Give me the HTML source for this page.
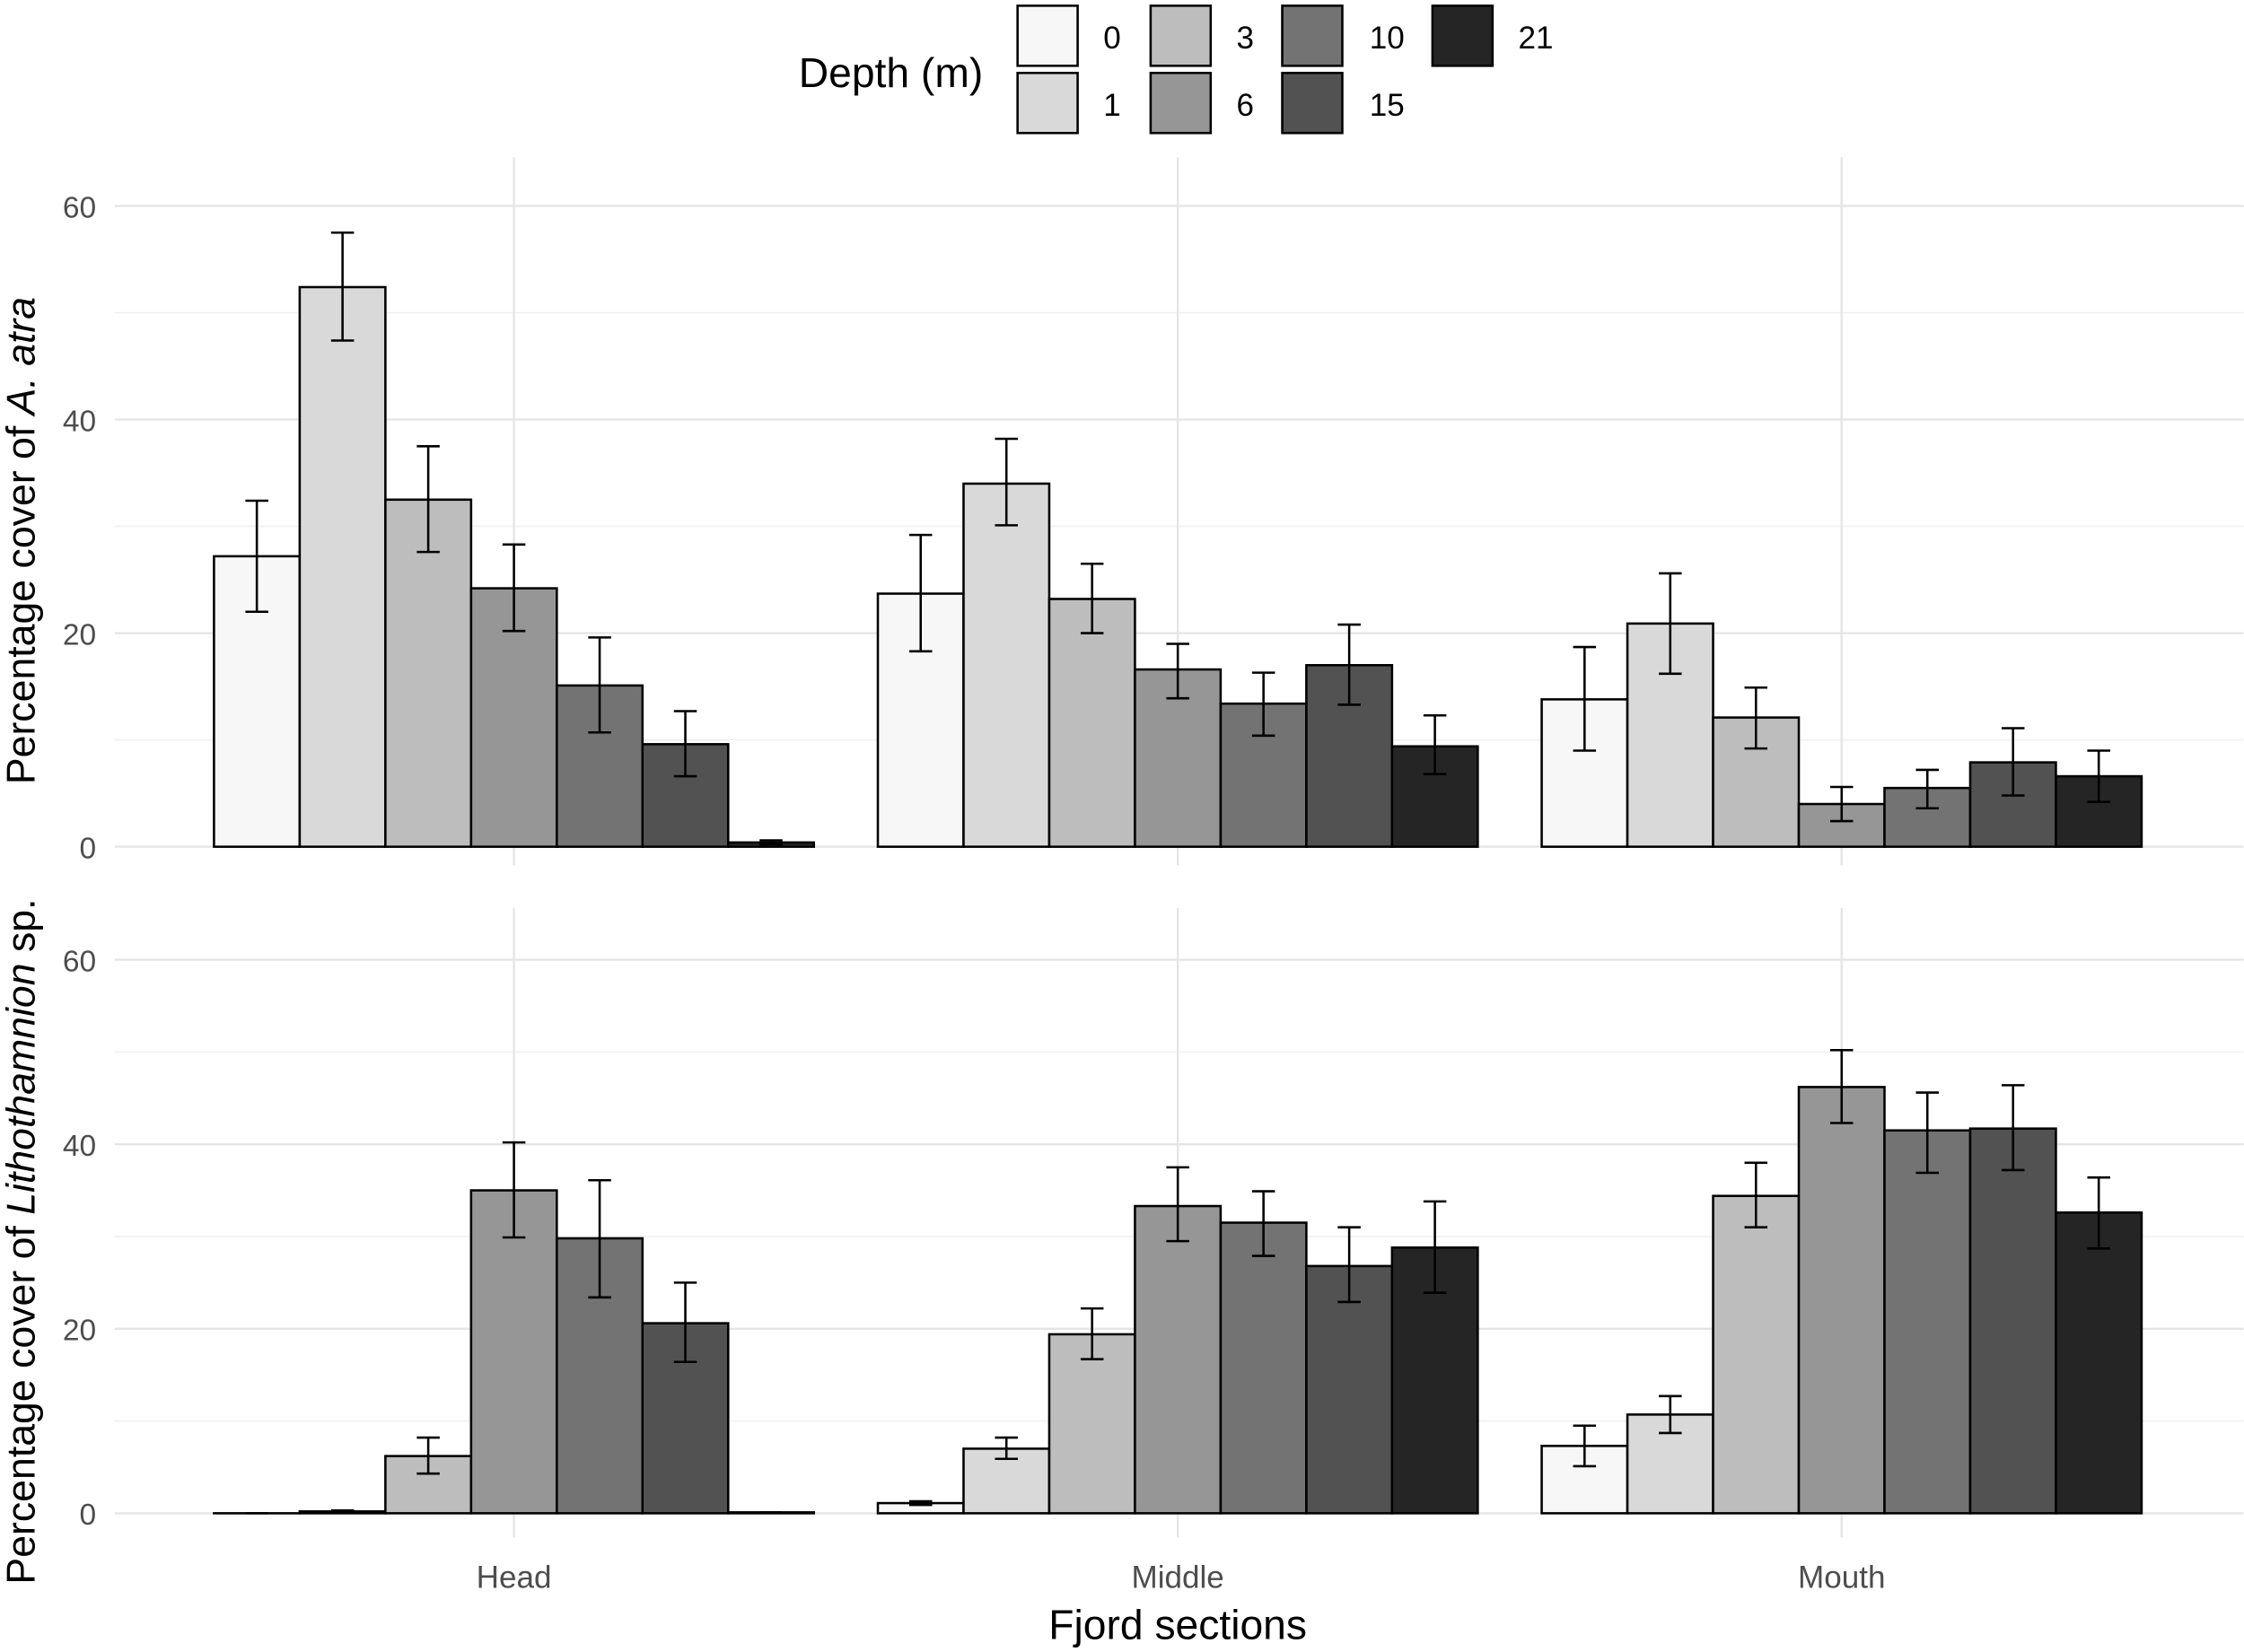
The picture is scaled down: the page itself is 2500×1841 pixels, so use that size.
<!DOCTYPE html>
<html><head><meta charset="utf-8"><style>
html,body{margin:0;padding:0;background:#fff}
svg{display:block}
text{font-family:"Liberation Sans",sans-serif}
</style></head><body>
<svg id="chart" width="2500" height="1841" viewBox="0 0 1568 1155" xmlns="http://www.w3.org/2000/svg">
<g id="panels"></g>
<g id="legend"></g>
<text x="823" y="1146" text-anchor="middle" font-size="29" fill="#000">Fjord sections</text>
</svg>
<script>
const sections = ["Head","Middle","Mouth"];
const depths = ["0","1","3","6","10","15","21"];
const fills = ["#f7f7f7","#d9d9d9","#bdbdbd","#969696","#737373","#525252","#252525"];
const yTicks = [0,20,40,60];
// Panel 1: A. atra
const atraMean = [[27.2,52.4,32.5,24.2,15.1,9.6,0.4],[23.7,34,23.2,16.6,13.4,17,9.4],[13.8,20.9,12.1,4,5.5,7.9,6.6]];
const atraLo = [[22,47.4,27.6,20.2,10.7,6.6,0.2],[18.3,30.1,20,13.9,10.4,13.3,6.8],[9,16.2,9.2,2.4,3.6,4.8,4.2]];
const atraHi = [[32.4,57.5,37.5,28.3,19.6,12.7,0.6],[29.2,38.2,26.5,19,16.3,20.8,12.3],[18.7,25.6,14.9,5.6,7.2,11.1,9]];
// Panel 2: Lithothamnion
const lithoMean = [[0,0.2,6.2,35,29.8,20.6,0.1],[1.1,7,19.4,33.3,31.5,26.8,28.8],[7.3,10.7,34.4,46.2,41.5,41.7,32.6]];
const lithoLo = [[0,0.1,4.3,29.9,23.4,16.4,0.1],[0.9,5.9,16.7,29.5,27.9,22.9,23.9],[5.1,8.7,31,42.3,36.9,37.2,28.7]];
const lithoHi = [[0,0.3,8.2,40.2,36.1,25,0.1],[1.3,8.2,22.2,37.5,34.9,31,33.8],[9.5,12.7,38,50.2,45.6,46.4,36.4]];

const NS="http://www.w3.org/2000/svg";
function mk(tag,attrs,parent){const e=document.createElementNS(NS,tag);for(const k in attrs)e.setAttribute(k,attrs[k]);parent.appendChild(e);return e;}
const svg=document.getElementById('chart');
const panelsG=document.getElementById('panels');
const xCenter=i=>359+i*464;
const barW=59.9;
const xBar=(i,j)=>xCenter(i)-3.5*barW+j*barW;

function drawPanel(name,y0,y60,vTop,vBot,mean,lo,hi,titleY,titleParts){
  const y=v=>y0-(y0-y60)*v/60;
  const g=mk('g',{},panelsG);
  
  
  [10,30,50].forEach(v=>{mk('line',{x1:80,x2:1568,y1:y(v),y2:y(v),stroke:'#f0f0f0','stroke-width':1},g);});
  yTicks.forEach(v=>{
    mk('line',{x1:80,x2:1568,y1:y(v),y2:y(v),stroke:'#e5e5e5','stroke-width':1.5},g);
    const t=mk('text',{x:67,y:y(v)+8,'text-anchor':'end','font-size':21,fill:'#4d4d4d'},g);
    t.textContent=v;
    
    
  });
  sections.forEach((s,i)=>{mk('line',{x1:xCenter(i),x2:xCenter(i),y1:vTop,y2:vBot,stroke:'#e5e5e5','stroke-width':1.5},g);});
  sections.forEach((s,i)=>{
    depths.forEach((d,j)=>{
      const top=y(mean[i][j]);
      const r=mk('rect',{x:xBar(i,j),y:top,width:barW,height:Math.max(y0-top,0.01),fill:fills[j],stroke:'#000','stroke-width':1.6},g);
      
      
      const cx=xBar(i,j)+barW/2;
      const e=mk('path',{d:`M${cx-8},${y(hi[i][j])}H${cx+8}M${cx},${y(hi[i][j])}V${y(lo[i][j])}M${cx-8},${y(lo[i][j])}H${cx+8}`,stroke:'#000','stroke-width':1.6,fill:'none'},g);
      
      
    });
  });
  const t=mk('text',{transform:`translate(24,${titleY}) rotate(-90)`,'text-anchor':'middle','font-size':28,fill:'#000'},g);
  
  
  titleParts.forEach(p=>{const ts=mk('tspan',p[1]?{'font-style':'italic'}:{},t);ts.textContent=p[0];});
}
drawPanel('atra',592,144,110,605,atraMean,atraLo,atraHi,378,[["Percentage cover of ",false],["A. atra",true]]);
drawPanel('lithothamnion',1058,671,635,1075,lithoMean,lithoLo,lithoHi,868,[["Percentage cover of ",false],["Lithothamnion",true],[" sp.",false]]);
sections.forEach((s,i)=>{
  const t=mk('text',{x:xCenter(i),y:1110,'text-anchor':'middle','font-size':22,fill:'#4d4d4d'},svg);
  t.textContent=s;
  
  
});
const lg=document.getElementById('legend');
const lt=mk('text',{x:558,y:61,'font-size':29,fill:'#000'},lg);
lt.textContent='Depth (m)';


const colX=[710,803,895,1000], labX=[771,864,957,1061];
depths.forEach((d,j)=>{
  const c=Math.floor(j/2), r=j%2;
  const k=mk('rect',{x:colX[c]+1,y:4+r*47,width:42,height:42,fill:fills[j],stroke:'#000','stroke-width':1.6},lg);
  
  
  const t=mk('text',{x:labX[c],y:34+r*47,'font-size':22,fill:'#000'},lg);
  t.textContent=d;
  
  
});
</script>
</body></html>
